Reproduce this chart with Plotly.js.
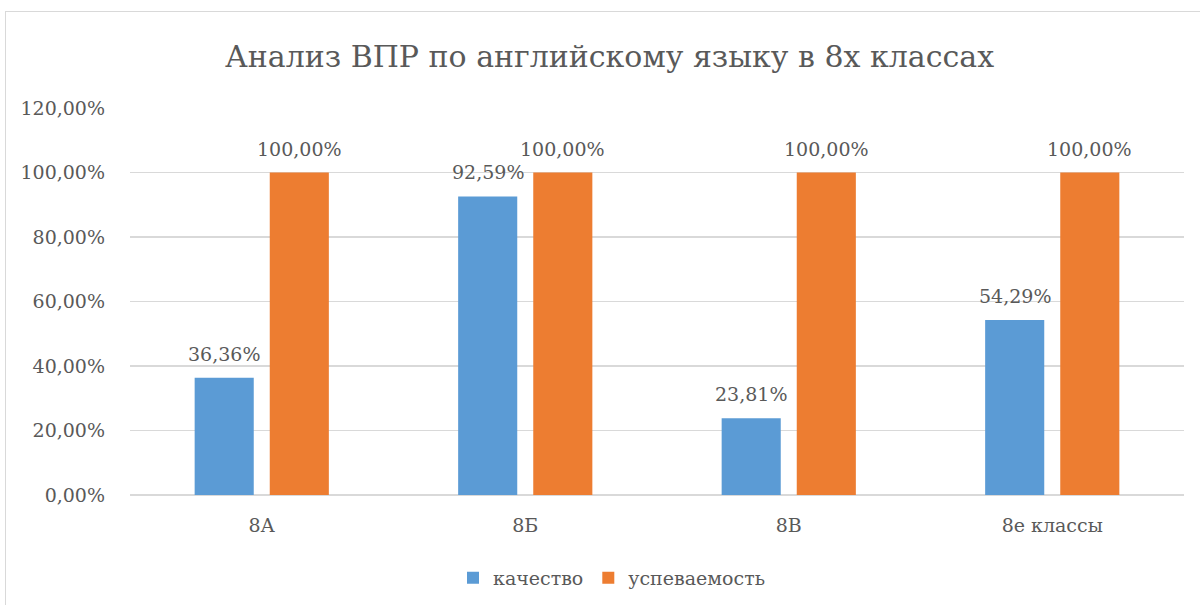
<!DOCTYPE html>
<html>
<head>
<meta charset="utf-8">
<script src="https://cdn.plot.ly/plotly-3.0.1.min.js"></script>
<style>
  html, body { margin: 0; padding: 0; width: 1200px; height: 605px; overflow: hidden; background: #fff; }
  #chart { width: 1200px; height: 605px; }
  #frame { position: absolute; left: 5px; top: 11px; width: 1300px; height: 700px; border: 1.5px solid #d9d9d9; pointer-events: none; }
</style>
</head>
<body>
<div id="chart"></div>
<div id="frame"></div>
<script>
const categories = ['8А', '8Б', '8В', '8е классы'];
const seriesNames = ['качество', 'успеваемость'];
const quality = [0.3636, 0.9259, 0.2381, 0.5429];
const success = [1.0, 1.0, 1.0, 1.0];
const chartTitle = 'Анализ ВПР по английскому языку в 8х классах';

const colors = ['#5B9BD5', '#ED7D31'];
const textColor = '#595959';
const fontFamily = 'DejaVu Serif';

const fmt = v => (v * 100).toFixed(2).replace('.', ',') + '%';

const traces = [
  { type: 'bar', name: seriesNames[0], x: categories, y: quality, marker: { color: colors[0] }, hoverinfo: 'none' },
  { type: 'bar', name: seriesNames[1], x: categories, y: success, marker: { color: colors[1] }, hoverinfo: 'none' }
];

const annotations = [];
[quality, success].forEach((vals, si) => {
  vals.forEach((v, i) => {
    annotations.push({
      xref: 'x', yref: 'y', x: categories[i], y: v,
      xshift: si === 0 ? -37.5 : 37.5, yshift: 24,
      yanchor: 'middle', xanchor: 'center',
      text: fmt(v), showarrow: false,
      font: { family: fontFamily, size: 19, color: textColor }
    });
  });
});

const layout = {
  width: 1200, height: 605,
  margin: { l: 130, r: 16, t: 108, b: 110 },
  paper_bgcolor: '#ffffff', plot_bgcolor: '#ffffff',
  separators: ', ',
  font: { family: fontFamily, size: 19, color: textColor },
  title: {
    text: chartTitle,
    font: { family: fontFamily, size: 30, color: textColor },
    xref: 'container', yref: 'container', x: 0.508, y: 0.906,
    xanchor: 'center', yanchor: 'middle'
  },
  barmode: 'group',
  bargap: 0.43,
  bargroupgap: 0.213,
  xaxis: {
    type: 'category',
    showgrid: false, showline: false, zeroline: false,
    ticks: '', ticklabelstandoff: 17,
    tickfont: { family: fontFamily, size: 19, color: textColor }
  },
  yaxis: {
    range: [0, 1.2], dtick: 0.2, tick0: 0,
    tickformat: '.2%',
    showgrid: true, gridcolor: '#d9d9d9', gridwidth: 1.5,
    zeroline: true, zerolinecolor: '#d9d9d9', zerolinewidth: 1.5,
    showline: false, ticks: '', ticklabelstandoff: 24,
    tickfont: { family: fontFamily, size: 19, color: textColor }
  },
  showlegend: true,
  legend: {
    orientation: 'h',
    xref: 'container', yref: 'container',
    x: 0.51, y: 0.045, xanchor: 'center', yanchor: 'middle',
    font: { family: fontFamily, size: 19, color: textColor },
    itemwidth: 30
  },
  annotations: annotations
};

Plotly.newPlot('chart', traces, layout, { displayModeBar: false, staticPlot: true });
</script>
</body>
</html>
